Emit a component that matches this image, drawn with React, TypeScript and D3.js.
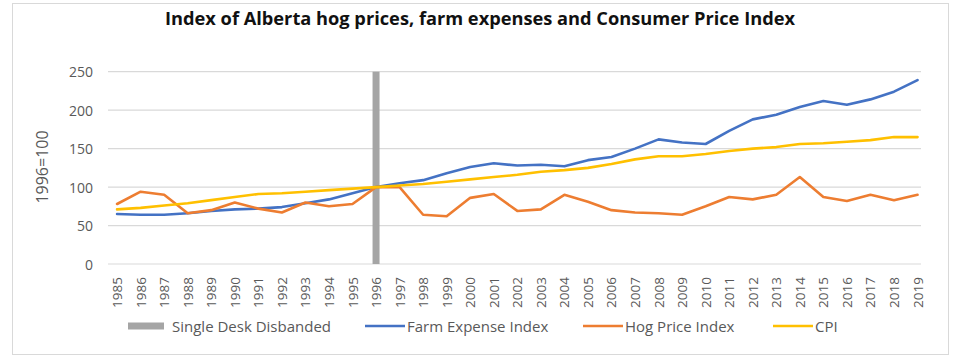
import React from "react";
import * as d3 from "d3";

const years: string[] = [
  "1985","1986","1987","1988","1989","1990","1991","1992","1993","1994","1995","1996",
  "1997","1998","1999","2000","2001","2002","2003","2004","2005","2006","2007","2008",
  "2009","2010","2011","2012","2013","2014","2015","2016","2017","2018","2019",
];

const farmExpense: number[] = [
  65, 64, 64, 66, 69, 71, 72, 74, 79, 84, 92, 100,
  105, 109, 118, 126, 131, 128, 129, 127, 135, 139, 150, 162,
  158, 156, 173, 188, 194, 204, 212, 207, 214, 224, 239,
];

const hogPrice: number[] = [
  78, 94, 90, 66, 70, 80, 72, 67, 80, 75, 78, 100,
  100, 64, 62, 86, 91, 69, 71, 90, 81, 70, 67, 66,
  64, 75, 87, 84, 90, 113, 87, 82, 90, 83, 90,
];

const cpi: number[] = [
  71, 73, 76, 79, 83, 87, 91, 92, 94, 96, 98, 100,
  102, 104, 107, 110, 113, 116, 120, 122, 125, 130, 136, 140,
  140, 143, 147, 150, 152, 156, 157, 159, 161, 165, 165,
];

const yTicks: number[] = [0, 50, 100, 150, 200, 250];
const disbandYear = "1996";
const disbandValue = 250;

const title = "Index of Alberta hog prices, farm expenses and Consumer Price Index";
const yTitle = "1996=100";

const series = [
  { name: "Farm Expense Index", values: farmExpense, color: "#4472C4" },
  { name: "Hog Price Index", values: hogPrice, color: "#ED7D31" },
  { name: "CPI", values: cpi, color: "#FFC000" },
];

const FONT = "'Open Sans', sans-serif";

export default function App() {
  const W = 956, H = 358;
  const x = d3.scaleBand<string>().domain(years).range([105.3, 929.3]);
  const y = d3.scaleLinear().domain([0, 250]).range([264, 71.7]);
  const cx = (yr: string) => (x(yr) as number) + x.bandwidth() / 2;
  const line = d3
    .line<number>()
    .x((_, i) => cx(years[i]))
    .y((v) => y(v));

  const legendItems = [
    { name: "Single Desk Disbanded", color: "#A5A5A5", type: "bar", x: 128 },
    { name: "Farm Expense Index", color: "#4472C4", type: "line", x: 365 },
    { name: "Hog Price Index", color: "#ED7D31", type: "line", x: 583 },
    { name: "CPI", color: "#FFC000", type: "line", x: 773 },
  ];
  const legendY = 326;

  return (
    <svg
      width={W}
      height={H}
      style={{ position: "absolute", left: 0, top: 0, background: "#fff" }}
      fontFamily={FONT}
    >
      <rect x={12.5} y={3.5} width={936} height={351} fill="#fff" stroke="#d9d9d9" />
      <text x={480} y={25} textAnchor="middle" fontSize={18} fontWeight="bold" fill="#111"
        textLength={630} lengthAdjust="spacingAndGlyphs">
        {title}
      </text>
      {yTicks.map((t) => (
        <g key={t}>
          <line x1={108} x2={921} y1={y(t)} y2={y(t)} stroke="#d9d9d9" strokeWidth={1.2} />
          <text x={93} y={y(t)} textAnchor="end" dominantBaseline="central" fontSize={14} fill="#595959">
            {t}
          </text>
        </g>
      ))}
      <text
        transform={`translate(42,167) rotate(-90)`}
        textAnchor="middle"
        dominantBaseline="central"
        fontSize={16}
        fill="#595959"
      >
        {yTitle}
      </text>
      <rect
        x={cx(disbandYear) - 3.5}
        y={y(disbandValue)}
        width={7}
        height={y(0) - y(disbandValue)}
        fill="#A5A5A5"
      />
      {series.map((s) => (
        <path
          key={s.name}
          d={line(s.values) || ""}
          fill="none"
          stroke={s.color}
          strokeWidth={2.6}
          strokeLinejoin="round"
          strokeLinecap="round"
        />
      ))}
      {years.map((yr) => (
        <text
          key={yr}
          transform={`translate(${cx(yr)},277) rotate(-90)`}
          textAnchor="end"
          dominantBaseline="central"
          fontSize={13.5}
          fill="#595959"
        >
          {yr}
        </text>
      ))}
      {legendItems.map((it) => (
        <g key={it.name}>
          {it.type === "bar" ? (
            <rect x={it.x} y={legendY - 3.5} width={36} height={7} fill={it.color} />
          ) : (
            <line x1={it.x} x2={it.x + 40} y1={legendY} y2={legendY} stroke={it.color} strokeWidth={2.6} />
          )}
          <text
            x={it.x + (it.type === "bar" ? 44 : 42)}
            y={legendY}
            dominantBaseline="central"
            fontSize={15}
            fill="#595959"
          >
            {it.name}
          </text>
        </g>
      ))}
    </svg>
  );
}
